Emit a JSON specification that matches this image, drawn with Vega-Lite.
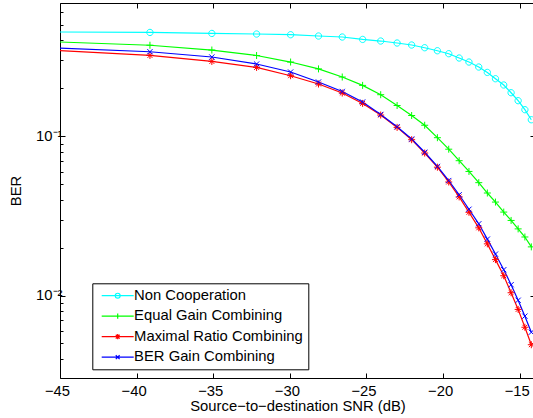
{
  "$schema": "https://vega.github.io/schema/vega-lite/v6.json",
  "width": 475,
  "height": 375,
  "autosize": {"type": "none"},
  "padding": {"left": 60, "top": 3, "right": 0, "bottom": 40},
  "datasets": {
    "ber": [
      {"s": "Non Cooperation", "x": -47, "y": 0.4519},
      {"s": "Non Cooperation", "x": -39.13, "y": 0.4483},
      {"s": "Non Cooperation", "x": -35.09, "y": 0.4418},
      {"s": "Non Cooperation", "x": -32.17, "y": 0.4381},
      {"s": "Non Cooperation", "x": -29.95, "y": 0.4337},
      {"s": "Non Cooperation", "x": -28.13, "y": 0.4256},
      {"s": "Non Cooperation", "x": -26.58, "y": 0.4195},
      {"s": "Non Cooperation", "x": -25.25, "y": 0.4052},
      {"s": "Non Cooperation", "x": -24.07, "y": 0.3959},
      {"s": "Non Cooperation", "x": -23.0, "y": 0.3847},
      {"s": "Non Cooperation", "x": -22.05, "y": 0.3737},
      {"s": "Non Cooperation", "x": -21.2, "y": 0.3594},
      {"s": "Non Cooperation", "x": -20.37, "y": 0.3441},
      {"s": "Non Cooperation", "x": -19.63, "y": 0.3296},
      {"s": "Non Cooperation", "x": -18.95, "y": 0.3097},
      {"s": "Non Cooperation", "x": -18.31, "y": 0.2922},
      {"s": "Non Cooperation", "x": -17.67, "y": 0.2719},
      {"s": "Non Cooperation", "x": -17.11, "y": 0.2515},
      {"s": "Non Cooperation", "x": -16.58, "y": 0.2296},
      {"s": "Non Cooperation", "x": -16.04, "y": 0.2097},
      {"s": "Non Cooperation", "x": -15.56, "y": 0.1875},
      {"s": "Non Cooperation", "x": -15.1, "y": 0.1671},
      {"s": "Non Cooperation", "x": -14.66, "y": 0.1467},
      {"s": "Non Cooperation", "x": -14.24, "y": 0.1269},
      {"s": "Equal Gain Combining", "x": -47, "y": 0.3968},
      {"s": "Equal Gain Combining", "x": -39.13, "y": 0.3726},
      {"s": "Equal Gain Combining", "x": -35.09, "y": 0.3476},
      {"s": "Equal Gain Combining", "x": -32.17, "y": 0.3211},
      {"s": "Equal Gain Combining", "x": -29.95, "y": 0.2922},
      {"s": "Equal Gain Combining", "x": -28.13, "y": 0.2646},
      {"s": "Equal Gain Combining", "x": -26.58, "y": 0.2353},
      {"s": "Equal Gain Combining", "x": -25.25, "y": 0.2085},
      {"s": "Equal Gain Combining", "x": -24.07, "y": 0.1822},
      {"s": "Equal Gain Combining", "x": -23.0, "y": 0.1559},
      {"s": "Equal Gain Combining", "x": -22.05, "y": 0.1349},
      {"s": "Equal Gain Combining", "x": -21.2, "y": 0.1172},
      {"s": "Equal Gain Combining", "x": -20.37, "y": 0.0979},
      {"s": "Equal Gain Combining", "x": -19.63, "y": 0.0829},
      {"s": "Equal Gain Combining", "x": -18.95, "y": 0.0702},
      {"s": "Equal Gain Combining", "x": -18.31, "y": 0.0601},
      {"s": "Equal Gain Combining", "x": -17.67, "y": 0.0511},
      {"s": "Equal Gain Combining", "x": -17.11, "y": 0.044},
      {"s": "Equal Gain Combining", "x": -16.58, "y": 0.0386},
      {"s": "Equal Gain Combining", "x": -16.04, "y": 0.0334},
      {"s": "Equal Gain Combining", "x": -15.56, "y": 0.0296},
      {"s": "Equal Gain Combining", "x": -15.1, "y": 0.0262},
      {"s": "Equal Gain Combining", "x": -14.66, "y": 0.0233},
      {"s": "Equal Gain Combining", "x": -14.24, "y": 0.0202},
      {"s": "Maximal Ratio Combining", "x": -47, "y": 0.3522},
      {"s": "Maximal Ratio Combining", "x": -39.13, "y": 0.3215},
      {"s": "Maximal Ratio Combining", "x": -35.09, "y": 0.2948},
      {"s": "Maximal Ratio Combining", "x": -32.17, "y": 0.2703},
      {"s": "Maximal Ratio Combining", "x": -29.95, "y": 0.2398},
      {"s": "Maximal Ratio Combining", "x": -28.13, "y": 0.2127},
      {"s": "Maximal Ratio Combining", "x": -26.58, "y": 0.1867},
      {"s": "Maximal Ratio Combining", "x": -25.25, "y": 0.1607},
      {"s": "Maximal Ratio Combining", "x": -24.07, "y": 0.1358},
      {"s": "Maximal Ratio Combining", "x": -23.0, "y": 0.1136},
      {"s": "Maximal Ratio Combining", "x": -22.05, "y": 0.0951},
      {"s": "Maximal Ratio Combining", "x": -21.2, "y": 0.0784},
      {"s": "Maximal Ratio Combining", "x": -20.37, "y": 0.0639},
      {"s": "Maximal Ratio Combining", "x": -19.63, "y": 0.0516},
      {"s": "Maximal Ratio Combining", "x": -18.95, "y": 0.0416},
      {"s": "Maximal Ratio Combining", "x": -18.31, "y": 0.0333},
      {"s": "Maximal Ratio Combining", "x": -17.67, "y": 0.0266},
      {"s": "Maximal Ratio Combining", "x": -17.11, "y": 0.0211},
      {"s": "Maximal Ratio Combining", "x": -16.58, "y": 0.0168},
      {"s": "Maximal Ratio Combining", "x": -16.04, "y": 0.01331},
      {"s": "Maximal Ratio Combining", "x": -15.56, "y": 0.01041},
      {"s": "Maximal Ratio Combining", "x": -15.1, "y": 0.00818},
      {"s": "Maximal Ratio Combining", "x": -14.66, "y": 0.00632},
      {"s": "Maximal Ratio Combining", "x": -14.24, "y": 0.00491},
      {"s": "BER Gain Combining", "x": -47, "y": 0.3644},
      {"s": "BER Gain Combining", "x": -39.13, "y": 0.3391},
      {"s": "BER Gain Combining", "x": -35.09, "y": 0.3142},
      {"s": "BER Gain Combining", "x": -32.17, "y": 0.2839},
      {"s": "BER Gain Combining", "x": -29.95, "y": 0.2529},
      {"s": "BER Gain Combining", "x": -28.13, "y": 0.2189},
      {"s": "BER Gain Combining", "x": -26.58, "y": 0.191},
      {"s": "BER Gain Combining", "x": -25.25, "y": 0.164},
      {"s": "BER Gain Combining", "x": -24.07, "y": 0.137},
      {"s": "BER Gain Combining", "x": -23.0, "y": 0.1147},
      {"s": "BER Gain Combining", "x": -22.05, "y": 0.096},
      {"s": "BER Gain Combining", "x": -21.2, "y": 0.0793},
      {"s": "BER Gain Combining", "x": -20.37, "y": 0.0646},
      {"s": "BER Gain Combining", "x": -19.63, "y": 0.0527},
      {"s": "BER Gain Combining", "x": -18.95, "y": 0.0429},
      {"s": "BER Gain Combining", "x": -18.31, "y": 0.0348},
      {"s": "BER Gain Combining", "x": -17.67, "y": 0.0282},
      {"s": "BER Gain Combining", "x": -17.11, "y": 0.0226},
      {"s": "BER Gain Combining", "x": -16.58, "y": 0.0182},
      {"s": "BER Gain Combining", "x": -16.04, "y": 0.01452},
      {"s": "BER Gain Combining", "x": -15.56, "y": 0.01169},
      {"s": "BER Gain Combining", "x": -15.1, "y": 0.00934},
      {"s": "BER Gain Combining", "x": -14.66, "y": 0.00742},
      {"s": "BER Gain Combining", "x": -14.24, "y": 0.00588}
    ]
  },
  "data": {"name": "ber"},
  "layer": [
    {
      "mark": {"type": "line", "clip": true, "strokeWidth": 1.2},
      "encoding": {
        "x": {"field": "x", "type": "quantitative", "scale": {"domain": [-45, -14], "nice": false, "zero": false},
          "axis": {"orient": "bottom", "values": [-45, -40, -35, -30, -25, -20, -15], "tickSize": -5, "labelPadding": 10, "labelOffset": -3, "labelFlush": false, "title": "Source−to−destination SNR (dB)", "titlePadding": 1}},
        "y": {"field": "y", "type": "quantitative", "scale": {"type": "log", "domain": [0.003035, 0.686], "nice": false},
          "axis": {"orient": "left", "values": [0.01, 0.1], "tickSize": -5, "labelPadding": 3, "labelExpr": "datum.value < 0.05 ? '10⁻²' : '10⁻¹'", "title": "BER", "titlePadding": 12}},
        "color": {"field": "s", "type": "nominal",
          "scale": {"domain": ["Non Cooperation", "Equal Gain Combining", "Maximal Ratio Combining", "BER Gain Combining"], "range": ["#00ffff", "#00ff00", "#ff0000", "#0000ff"]},
          "legend": null}
      }
    },
    {
      "mark": {"type": "point", "clip": true, "filled": false, "opacity": 1, "size": 49, "strokeWidth": 1},
      "encoding": {
        "x": {"field": "x", "type": "quantitative", "scale": {"domain": [-45, -14], "nice": false, "zero": false},
          "axis": {"orient": "top", "values": [-45, -40, -35, -30, -25, -20, -15], "tickSize": -5, "labels": false, "title": null}},
        "y": {"field": "y", "type": "quantitative", "scale": {"type": "log", "domain": [0.003035, 0.686], "nice": false},
          "axis": {"orient": "right", "values": [0.01, 0.1], "tickSize": -5, "labels": false, "title": null}},
        "color": {"field": "s", "type": "nominal",
          "scale": {"domain": ["Non Cooperation", "Equal Gain Combining", "Maximal Ratio Combining", "BER Gain Combining"], "range": ["#00ffff", "#00ff00", "#ff0000", "#0000ff"]},
          "legend": null},
        "shape": {"field": "s", "type": "nominal",
          "scale": {"domain": ["Non Cooperation", "Equal Gain Combining", "Maximal Ratio Combining", "BER Gain Combining"],
            "range": ["M0.9,0A0.9,0.9 0 1,1 -0.9,0A0.9,0.9 0 1,1 0.9,0", "M-1,0H1M0,-1V1", "M-1,0H1M0,-1V1M-0.7,-0.7L0.7,0.7M-0.7,0.7L0.7,-0.7", "M-0.75,-0.75L0.75,0.75M-0.75,0.75L0.75,-0.75"]},
          "legend": null}
      }
    },
    {
      "transform": [{"filter": "datum.x > 0"}],
      "mark": {"type": "point", "filled": false, "opacity": 1, "size": 49, "strokeWidth": 1.2},
      "encoding": {
        "x": {"field": "x", "type": "quantitative", "scale": {"domain": [-45, -14], "nice": false, "zero": false}, "axis": null},
        "y": {"field": "y", "type": "quantitative", "scale": {"type": "log", "domain": [0.003035, 0.686], "nice": false},
          "axis": {"orient": "left", "values": [0.004, 0.005, 0.006, 0.007, 0.008, 0.009, 0.02, 0.03, 0.04, 0.05, 0.06, 0.07, 0.08, 0.09, 0.2, 0.3, 0.4, 0.5, 0.6], "tickSize": -3, "labels": false, "title": null}},
        "color": {"field": "s", "type": "nominal",
          "scale": {"domain": ["Non Cooperation", "Equal Gain Combining", "Maximal Ratio Combining", "BER Gain Combining"], "range": ["#00ffff", "#00ff00", "#ff0000", "#0000ff"]},
          "legend": {"title": null, "orient": "none", "legendX": 32.3, "legendY": 280.3}},
        "shape": {"field": "s", "type": "nominal",
          "scale": {"domain": ["Non Cooperation", "Equal Gain Combining", "Maximal Ratio Combining", "BER Gain Combining"],
            "range": ["M-4.57,0H4.57M0.7,0A0.7,0.7 0 1,1 -0.7,0A0.7,0.7 0 1,1 0.7,0", "M-4.57,0H4.57M0,-0.75V0.75", "M-4.57,0H4.57M0,-0.75V0.75M-0.55,-0.55L0.55,0.55M-0.55,0.55L0.55,-0.55", "M-4.57,0H4.57M-0.55,-0.55L0.55,0.55M-0.55,0.55L0.55,-0.55"]},
          "legend": {"title": null, "orient": "none", "legendX": 32.3, "legendY": 280.3}}
      }
    }
  ],
  "resolve": {
    "axis": {"x": "independent", "y": "independent"},
    "scale": {"color": "independent", "shape": "independent"}
  },
  "config": {
    "font": "Liberation Sans",
    "view": {"stroke": "#000000", "strokeWidth": 1},
    "axis": {"grid": false, "domain": false, "tickColor": "#000000", "tickWidth": 1, "labelColor": "#000000", "titleColor": "#000000",
      "labelFont": "Liberation Sans", "titleFont": "Liberation Sans", "labelFontSize": 14.8, "titleFontSize": 14.8, "titleFontWeight": "normal"},
    "legend": {"labelFont": "Liberation Sans", "labelFontSize": 14.8, "labelColor": "#000000", "labelLimit": 400,
      "strokeColor": "#000000", "fillColor": "#ffffff", "padding": 5, "rowPadding": 4.5,
      "symbolSize": 49, "symbolStrokeWidth": 1.2, "symbolOffset": 13, "labelOffset": 9}
  }
}
